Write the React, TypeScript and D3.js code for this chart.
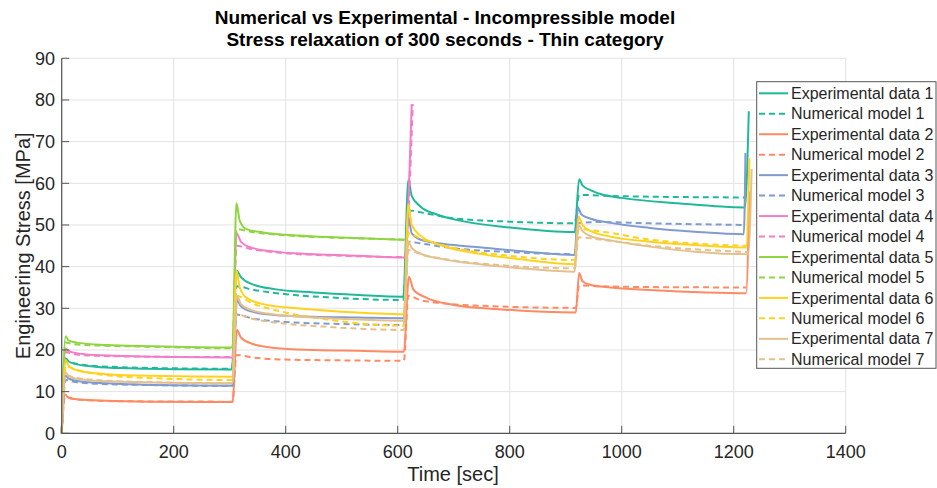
import React from "react";
import * as d3 from "d3";

type Pt = [number, number];

const titleLines = [
  "Numerical vs Experimental - Incompressible model",
  "Stress relaxation of 300 seconds - Thin category",
];
const xLabel = "Time [sec]";
const yLabel = "Engineering Stress [MPa]";
const xTicks = [0, 200, 400, 600, 800, 1000, 1200, 1400];
const yTicks = [0, 10, 20, 30, 40, 50, 60, 70, 80, 90];

const seriesLabels = [
  "Experimental data 1", "Numerical model 1",
  "Experimental data 2", "Numerical model 2",
  "Experimental data 3", "Numerical model 3",
  "Experimental data 4", "Numerical model 4",
  "Experimental data 5", "Numerical model 5",
  "Experimental data 6", "Numerical model 6",
  "Experimental data 7", "Numerical model 7",
];
const specimenColors = ["#1fb99a", "#ff8a63", "#7f9bcf", "#f27fc6", "#8fd541", "#ffd21f", "#e3c08e"];

const exp1: Pt[] = [[0,0],[7,18.0],[12,17.3],[25,16.6],[60,16.0],[120,15.6],[200,15.4],[304,15.3],
  [312,39],[320,37.5],[340,35.8],[380,34.6],[450,33.8],[530,33.2],[610,32.8],
  [619,60.8],[625,57],[640,54.5],[670,52.5],[720,50.8],[800,49.4],[916,48.3],
  [924,61],[930,59.5],[945,58.3],[965,57.3],[1000,56.5],[1100,55.2],[1220,54.2],[1227,77.3]];
const num1: Pt[] = [[0,0],[7,17.5],[15,17.1],[40,16.4],[100,15.9],[200,15.6],[304,15.5],
  [312,35.3],[340,34.5],[400,33.4],[480,32.6],[610,32.0],
  [619,53.5],[650,52.8],[700,51.6],[800,50.8],[916,50.4],
  [924,57.2],[1000,56.9],[1220,56.6]];
const exp2: Pt[] = [[0,0],[6,9.3],[12,8.6],[30,8.1],[80,7.8],[160,7.6],[305,7.5],
  [313,24.8],[320,23],[340,21.5],[380,20.5],[450,20.0],[530,19.8],[611,19.6],
  [620,37.6],[628,34.5],[650,32.6],[700,30.8],[780,29.8],[918,29.0],
  [924,38.5],[930,36.5],[945,35.6],[980,35.0],[1050,34.4],[1150,33.8],[1222,33.6],[1228,58]];
const num2: Pt[] = [[0,0],[6,8.8],[15,8.4],[40,8.0],[100,7.7],[305,7.6],
  [312,18.8],[340,18.2],[400,17.7],[500,17.5],[611,17.4],
  [619,33],[640,32],[680,31.2],[750,30.6],[918,30.1],
  [924,35.5],[960,35.3],[1050,35.1],[1222,35.0]];
const exp3: Pt[] = [[0,0],[7,13.8],[12,13.2],[30,12.5],[80,12.0],[160,11.6],[305,11.4],
  [313,32],[320,30.5],[340,29.2],[380,28.4],[450,28.0],[530,27.8],[611,27.6],
  [619,52],[625,48],[640,46.5],[680,45.5],[750,44.6],[830,43.6],[916,42.8],
  [922,54.2],[928,52.5],[945,51.5],[980,50.5],[1050,49.3],[1130,48.4],[1218,47.8],[1221,67.3]];
const num3: Pt[] = [[0,0],[7,12.8],[20,12.4],[60,11.9],[150,11.6],[305,11.4],
  [312,28.5],[340,27.6],[400,26.7],[480,26.3],[611,26.0],
  [619,46],[640,45.6],[700,44.4],[800,43.5],[916,43.0],
  [922,50.5],[960,50.7],[1050,50.4],[1218,50.0]];
const exp4: Pt[] = [[0,0],[7,20.3],[15,19.6],[40,19.0],[100,18.6],[200,18.3],[305,18.2],
  [312,48.1],[320,46],[340,44.5],[380,43.6],[450,43.0],[530,42.6],[612,42.2],[625,79]];
const num4: Pt[] = [[0,0],[7,19.5],[20,19.0],[60,18.6],[150,18.4],[305,18.3],
  [312,45],[340,44.2],[400,43.2],[500,42.6],[612,42.3],[627,79]];
const exp5: Pt[] = [[0,0],[7,23.3],[12,22.3],[30,21.7],[80,21.2],[160,20.9],[305,20.6],
  [312,55.2],[318,51],[330,49],[360,48.2],[420,47.5],[500,47.0],[612,46.4]];
const num5: Pt[] = [[0,0],[7,21.8],[20,21.4],[60,21.1],[150,20.8],[305,20.4],
  [312,49.0],[340,48.3],[400,47.5],[500,46.9],[612,46.5]];
const exp6: Pt[] = [[0,0],[7,17.6],[12,16.3],[30,15.0],[80,14.2],[160,13.8],[305,13.6],
  [312,39],[318,35],[330,32.5],[360,31],[420,30],[500,29.2],[611,28.6],
  [619,55],[625,50],[640,47.5],[680,45],[750,43],[830,41.6],[916,40.6],
  [923,52],[930,50],[945,48.5],[980,47.2],[1050,46],[1130,45.2],[1222,44.6],[1228,66]];
const num6: Pt[] = [[0,0],[7,16.2],[20,15.5],[60,14.3],[150,13.3],[305,12.8],
  [312,33],[340,31.2],[400,29],[480,27.2],[611,25.8],
  [619,48],[640,46.8],[700,44.5],[800,42.6],[916,41.6],
  [923,49],[960,48.5],[1050,46.5],[1150,45.4],[1222,45.0]];
const exp7: Pt[] = [[0,0],[7,14.6],[12,13.8],[30,13.0],[80,12.5],[160,12.2],[305,12.0],
  [313,33],[320,31],[340,29.5],[380,28.5],[450,27.8],[530,27.3],[611,27.0],
  [619,46],[625,44.5],[640,43.2],[680,41.8],[750,40.5],[830,39.5],[916,38.8],
  [923,50],[930,48.5],[945,47.3],[980,46.3],[1050,44.8],[1130,43.6],[1226,43.0],[1232,63.4]];
const num7: Pt[] = [[0,0],[7,14.0],[20,13.5],[60,12.8],[150,12.3],[305,12.0],
  [312,28.5],[340,27.5],[400,26.3],[480,25.5],[611,24.8],
  [619,44],[640,43],[700,41.5],[800,40.2],[916,39.6],
  [923,47],[960,46.5],[1050,45],[1150,44],[1226,43.5]];

const allSeries: Pt[][] = [exp1, num1, exp2, num2, exp3, num3, exp4, num4, exp5, num5, exp6, num6, exp7, num7];

const W = 937;
const H = 488;
const M = { left: 61.7, right: 845.7, top: 58.3, bottom: 433.3 };
const FONT = "'Liberation Sans', Arial, Helvetica, sans-serif";

export default function App() {
  const x = d3.scaleLinear().domain([0, 1400]).range([M.left, M.right]);
  const y = d3.scaleLinear().domain([0, 90]).range([M.bottom, M.top]);
  const line = d3
    .line<Pt>()
    .x((d) => x(d[0]))
    .y((d) => y(d[1]))
    .curve(d3.curveMonotoneX);

  const legX = 756.7;
  const legY = 81.7;
  const legW = 179.3;
  const legH = 286.6;
  const rowH = 20.46;

  return (
    <svg width={W} height={H} style={{ position: "absolute", left: 0, top: 0, background: "#fff" }} fontFamily={FONT}>
      <rect x={0} y={0} width={W} height={H} fill="#fff" />
      {/* grid */}
      {xTicks.map((t) => (
        <line key={"gx" + t} x1={x(t)} x2={x(t)} y1={M.top} y2={M.bottom} stroke="#e3e3e3" strokeWidth={1} />
      ))}
      {yTicks.map((t) => (
        <line key={"gy" + t} x1={M.left} x2={M.right} y1={y(t)} y2={y(t)} stroke="#e3e3e3" strokeWidth={1} />
      ))}
      {/* series */}
      {allSeries.map((s, i) => (
        <path
          key={"s" + i}
          d={line(s) || ""}
          fill="none"
          stroke={specimenColors[Math.floor(i / 2)]}
          strokeWidth={2}
          strokeDasharray={i % 2 === 1 ? "6,4" : undefined}
          strokeLinejoin="round"
        />
      ))}
      {/* axes */}
      <line x1={M.left} x2={M.left} y1={M.top} y2={M.bottom} stroke="#555" strokeWidth={1.2} />
      <line x1={M.left} x2={M.right} y1={M.bottom} y2={M.bottom} stroke="#555" strokeWidth={1.2} />
      {xTicks.map((t) => (
        <g key={"xt" + t}>
          <line x1={x(t)} x2={x(t)} y1={M.bottom} y2={M.bottom - 7.5} stroke="#555" strokeWidth={1} />
          <text x={x(t)} y={457.5} textAnchor="middle" fontSize={18} fill="#262626">
            {t}
          </text>
        </g>
      ))}
      {yTicks.map((t) => (
        <g key={"yt" + t}>
          <line x1={M.left} x2={M.left + 7.5} y1={y(t)} y2={y(t)} stroke="#555" strokeWidth={1} />
          <text x={55} y={y(t)} dy="0.35em" textAnchor="end" fontSize={18} fill="#262626">
            {t}
          </text>
        </g>
      ))}
      {/* labels */}
      <text x={453} y={481} textAnchor="middle" fontSize={20} fill="#262626">
        {xLabel}
      </text>
      <text
        transform={`translate(30,${(M.top + M.bottom) / 2}) rotate(-90)`}
        textAnchor="middle"
        fontSize={20}
        fill="#262626"
      >
        {yLabel}
      </text>
      {titleLines.map((t, i) => (
        <text key={"ti" + i} x={445} y={24 + i * 21.5} textAnchor="middle" fontSize={19} fontWeight="bold" fill="#000">
          {t}
        </text>
      ))}
      {/* legend */}
      <rect x={legX} y={legY} width={legW} height={legH} fill="#fff" stroke="#555" strokeWidth={1} />
      {seriesLabels.map((lab, i) => {
        const cy = legY + 11.6 + i * rowH;
        return (
          <g key={"lg" + i}>
            <line
              x1={759}
              x2={788}
              y1={cy}
              y2={cy}
              stroke={specimenColors[Math.floor(i / 2)]}
              strokeWidth={2}
              strokeDasharray={i % 2 === 1 ? "6,4" : undefined}
            />
            <text x={791} y={cy} dy="0.35em" fontSize={16} fill="#262626">
              {lab}
            </text>
          </g>
        );
      })}
    </svg>
  );
}
